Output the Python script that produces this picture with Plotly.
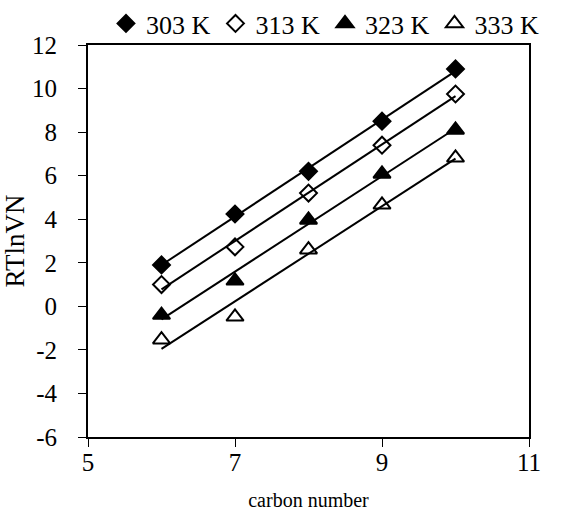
import numpy as np
import plotly.graph_objects as go

carbon = [6, 7, 8, 9, 10]
names = ["303 K", "313 K", "323 K", "333 K"]
v303 = [1.9, 4.24, 6.2, 8.5, 10.9]
v313 = [1.0, 2.73, 5.2, 7.4, 9.75]
v323 = [-0.4, 1.17, 3.97, 6.08, 8.1]
v333 = [-1.53, -0.48, 2.6, 4.66, 6.82]
series = [v303, v313, v323, v333]
symbols = ["diamond", "diamond-open", "triangle-up", "triangle-up-open"]
sizes = [13, 13, 15, 15]

x_ticks = [5, 7, 9, 11]
y_ticks = [-6, -4, -2, 0, 2, 4, 6, 8, 10, 12]

FONT = "Liberation Serif, Times New Roman, serif"
fig = go.Figure()
x = np.array(carbon, dtype=float)
for name, ys in zip(names, series):
    k, b = np.polyfit(x, np.array(ys), 1)
    xf = np.array([x.min(), x.max()])
    fig.add_trace(go.Scatter(x=xf, y=k * xf + b, mode="lines",
                             line=dict(color="black", width=2),
                             showlegend=False, hoverinfo="skip"))
for name, ys, sym, sz in zip(names, series, symbols, sizes):
    fig.add_trace(go.Scatter(x=carbon, y=ys, mode="markers", name=name,
                             marker=dict(symbol=sym, size=sz, color="black",
                                         line=dict(color="black", width=2))))

fig.update_layout(
    width=563, height=515,
    margin=dict(l=88, r=34, t=45, b=78, autoexpand=False),
    paper_bgcolor="white", plot_bgcolor="white",
    font=dict(family=FONT, size=26, color="black"),
    legend=dict(orientation="h", xref="container", x=106 / 563, xanchor="left",
                yref="container", y=1.0, yanchor="top",
                font=dict(size=26, family=FONT), itemwidth=30,
                tracegroupgap=0, bgcolor="rgba(0,0,0,0)"),
    showlegend=True,
)
fig.update_xaxes(range=[5, 11], tickvals=x_ticks, ticktext=[str(v) for v in x_ticks],
                 showgrid=False, zeroline=False, automargin=False,
                 showline=True, linecolor="black", linewidth=2, mirror=True,
                 ticks="outside", ticklen=8, tickcolor="black", tickwidth=1,
                 ticklabelstandoff=-6,
                 tickfont=dict(size=25, family=FONT),
                 title=dict(text="carbon number", font=dict(size=20, family=FONT), standoff=18))
fig.update_yaxes(range=[-6, 12], tickvals=y_ticks, ticktext=[str(v) for v in y_ticks],
                 showgrid=False, zeroline=False, automargin=False,
                 showline=True, linecolor="black", linewidth=2, mirror=True,
                 ticks="outside", ticklen=8, tickcolor="black", tickwidth=1,
                 ticklabelstandoff=16,
                 tickfont=dict(size=25, family=FONT),
                 title=dict(text="RTlnVN", font=dict(size=27, family=FONT), standoff=3))
fig.write_html("out.html", config={"displayModeBar": False},
               post_script="document.body.style.margin='0';")
